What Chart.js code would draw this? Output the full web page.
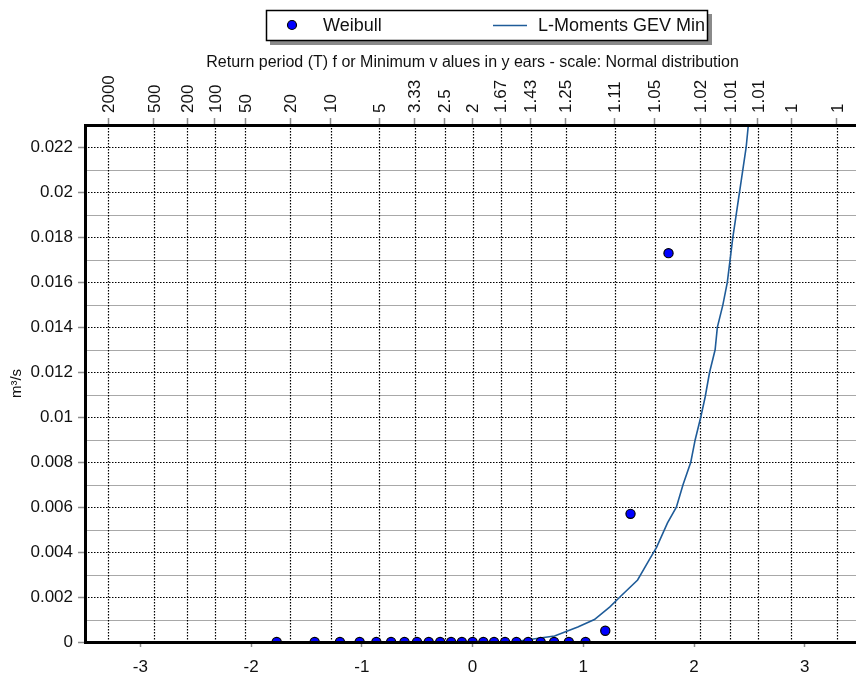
<!DOCTYPE html>
<html>
<head>
<meta charset="utf-8">
<title>Minimum flows - frequency analysis</title>
<script src="https://cdn.jsdelivr.net/npm/chart.js@4.4.1/dist/chart.umd.min.js"></script>
<style>
  html, body { margin: 0; padding: 0; background: #fff; overflow: hidden; }
  #wrap { width: 866px; height: 675px; }
</style>
</head>
<body>
<div id="wrap"><canvas id="freqChart" width="866" height="675"></canvas></div>
<script>
// Standard normal variate (bottom axis) and matching return periods (top axis)
const returnZ = [-3.2905, -2.8782, -2.5758, -2.3263, -2.0537, -1.6449, -1.2816, -0.8416, -0.5244, -0.2533, 0,
                 0.2533, 0.5244, 0.8416, 1.2816, 1.6449, 2.0537, 2.3263, 2.5758, 2.8782, 3.2905];
const returnLabels = ['2000', '500', '200', '100', '50', '20', '10', '5', '3.33', '2.5', '2',
                      '1.67', '1.43', '1.25', '1.11', '1.05', '1.02', '1.01', '1.01', '1', '1'];
const zTicks = [-3, -2, -1, 0, 1, 2, 3];
const qTicks = [0, 0.002, 0.004, 0.006, 0.008, 0.01, 0.012, 0.014, 0.016, 0.018, 0.02, 0.022];
const qMinor = [0.001, 0.003, 0.005, 0.007, 0.009, 0.011, 0.013, 0.015, 0.017, 0.019, 0.021];

// Observed minimum flows (m3/s) at Weibull plotting positions
const weibullZ = [-1.769, -1.426, -1.198, -1.020, -0.869, -0.736, -0.615, -0.502, -0.396, -0.293, -0.194, -0.097, 0,
                  0.097, 0.194, 0.293, 0.396, 0.502, 0.615, 0.736, 0.869, 1.020, 1.198, 1.426, 1.769];
const weibullQ = [0, 0, 0, 0, 0, 0, 0, 0, 0, 0, 0, 0, 0,
                  0, 0, 0, 0, 0, 0, 0, 0, 0, 0.0005, 0.0057, 0.0173];

// Fitted L-Moments GEV (minimum) curve
const gevZ = [0.36, 0.50, 0.74, 0.95, 1.10, 1.24, 1.33, 1.49, 1.60, 1.66, 1.76, 1.84, 1.90, 1.97,
              2.01, 2.06, 2.10, 2.14, 2.19, 2.21, 2.26, 2.30, 2.35, 2.38, 2.41, 2.44, 2.47, 2.49];
const gevQ = [0, 0.0001, 0.00027, 0.00067, 0.001, 0.00156, 0.002, 0.00276, 0.0037, 0.0042, 0.0053, 0.006, 0.007, 0.008,
              0.009, 0.010, 0.0109, 0.012, 0.013, 0.014, 0.015, 0.016, 0.018, 0.019, 0.020, 0.021, 0.022, 0.023];

const FONT = '"Liberation Sans", Arial, sans-serif';
const GEV_COLOR = '#1f5c99';

const toPoints = (xs, ys) => xs.map((v, i) => ({ x: v, y: ys[i] }));

// dotted / grey grid lines, vertical return-period labels and the boxed legend
const gridPlugin = {
  id: 'freqGrid',
  beforeDatasetsDraw(chart) {
    const { ctx, chartArea: a, scales } = chart;
    const xs = scales.x, ys = scales.y;
    ctx.save();
    ctx.beginPath();
    ctx.rect(a.left, a.top, a.right - a.left, a.bottom - a.top);
    ctx.clip();

    ctx.strokeStyle = '#a8a8a8';
    ctx.lineWidth = 1.2;
    qMinor.forEach(v => {
      const py = Math.round(ys.getPixelForValue(v)) + 0.5;
      ctx.beginPath(); ctx.moveTo(a.left, py); ctx.lineTo(a.right, py); ctx.stroke();
    });

    ctx.strokeStyle = '#000';
    ctx.lineWidth = 1.2;
    ctx.setLineDash([1.5, 1.5]);
    qTicks.forEach(v => {
      if (v === 0) return;
      const py = Math.round(ys.getPixelForValue(v)) + 0.5;
      ctx.beginPath(); ctx.moveTo(a.left, py); ctx.lineTo(a.right, py); ctx.stroke();
    });
    returnZ.forEach(v => {
      const px = Math.round(xs.getPixelForValue(v)) + 0.5;
      ctx.beginPath(); ctx.moveTo(px, a.top); ctx.lineTo(px, a.bottom); ctx.stroke();
    });
    ctx.restore();
  },
  afterDraw(chart) {
    const { ctx, chartArea: a, scales } = chart;

    // return period labels, read bottom to top above the top axis
    ctx.save();
    ctx.fillStyle = '#111';
    ctx.font = '17px ' + FONT;
    ctx.textAlign = 'left';
    ctx.textBaseline = 'middle';
    returnZ.forEach((v, i) => {
      const px = scales.x2.getPixelForValue(v);
      ctx.save();
      ctx.translate(px + 1, a.top - 12);
      ctx.rotate(-Math.PI / 2);
      ctx.fillText(returnLabels[i], 0, 0);
      ctx.restore();
    });
    ctx.restore();

    const bx = 266, by = 10, bw = 442, bh = 31;
    ctx.save();
    ctx.fillStyle = '#8a8a8a';
    ctx.fillRect(bx + 4, by + 4, bw, bh);
    ctx.fillStyle = '#fff';
    ctx.fillRect(bx, by, bw, bh);
    ctx.strokeStyle = '#000';
    ctx.lineWidth = 1.5;
    ctx.strokeRect(bx + 0.5, by + 0.5, bw - 1, bh - 1);

    const cy = 25;
    ctx.beginPath();
    ctx.arc(292, cy, 4.5, 0, Math.PI * 2);
    ctx.fillStyle = '#0000ff';
    ctx.fill();
    ctx.lineWidth = 1.2;
    ctx.strokeStyle = '#000';
    ctx.stroke();

    ctx.beginPath();
    ctx.moveTo(493, cy + 0.5); ctx.lineTo(527, cy + 0.5);
    ctx.strokeStyle = GEV_COLOR;
    ctx.lineWidth = 1.5;
    ctx.stroke();

    ctx.fillStyle = '#111';
    ctx.font = '18px ' + FONT;
    ctx.textBaseline = 'middle';
    ctx.textAlign = 'left';
    ctx.fillText('Weibull', 323, cy + 1);
    ctx.fillText('L-Moments GEV Min', 538, cy + 1);
    ctx.restore();
  }
};

const tickFont = { family: FONT, size: 17 };

new Chart(document.getElementById('freqChart'), {
  type: 'scatter',
  data: {
    datasets: [
      {
        label: 'Weibull',
        data: toPoints(weibullZ, weibullQ),
        backgroundColor: '#0000ff',
        borderColor: '#000',
        borderWidth: 1.2,
        pointRadius: 4.6,
        clip: 0,
        order: 1
      },
      {
        label: 'L-Moments GEV Min',
        data: toPoints(gevZ, gevQ),
        showLine: true,
        borderColor: GEV_COLOR,
        borderWidth: 1.6,
        pointRadius: 0,
        tension: 0,
        clip: 0,
        order: 2
      }
    ]
  },
  options: {
    responsive: false,
    animation: false,
    devicePixelRatio: 1,
    layout: { padding: { top: 48, left: 0, right: 2, bottom: 0 } },
    plugins: { legend: { display: false }, tooltip: { enabled: false } },
    scales: {
      x: {
        type: 'linear',
        position: 'bottom',
        min: -3.5,
        max: 3.5,
        afterBuildTicks: s => { s.ticks = zTicks.map(v => ({ value: v })); },
        afterFit: s => { s.height = 33; },
        ticks: { font: tickFont, color: '#111', padding: 10, maxRotation: 0, autoSkip: false },
        grid: { drawOnChartArea: false, drawTicks: true, tickLength: 5, tickColor: '#8c8c8c', tickWidth: 1.5 },
        border: { display: true, color: '#000', width: 3, z: 1 }
      },
      x2: {
        type: 'linear',
        position: 'top',
        min: -3.5,
        max: 3.5,
        afterBuildTicks: s => { s.ticks = returnZ.map(v => ({ value: v })); },
        afterFit: s => { s.height = 77; },
        ticks: { display: false },
        title: {
          display: true,
          text: 'Return period (T) f or Minimum v alues in y ears - scale: Normal distribution',
          font: { family: FONT, size: 16 },
          color: '#111',
          padding: { top: 5, bottom: 0 }
        },
        grid: { drawOnChartArea: false, drawTicks: true, tickLength: 7, tickColor: '#8c8c8c', tickWidth: 1.5 },
        border: { display: true, color: '#000', width: 3, z: 1 }
      },
      y: {
        type: 'linear',
        position: 'left',
        min: 0,
        max: 0.023,
        afterBuildTicks: s => { s.ticks = qTicks.map(v => ({ value: v })); },
        afterFit: s => { s.width = 85; },
        ticks: { font: tickFont, color: '#111', padding: 5, callback: v => String(v) },
        title: {
          display: true,
          text: 'm³/s',
          font: { family: FONT, size: 15 },
          color: '#111',
          padding: { top: 8, bottom: 0 }
        },
        grid: { drawOnChartArea: false, drawTicks: true, tickLength: 7, tickColor: '#8c8c8c', tickWidth: 1.5 },
        border: { display: true, color: '#000', width: 3, z: 1 }
      }
    }
  },
  plugins: [gridPlugin]
});
</script>
</body>
</html>
